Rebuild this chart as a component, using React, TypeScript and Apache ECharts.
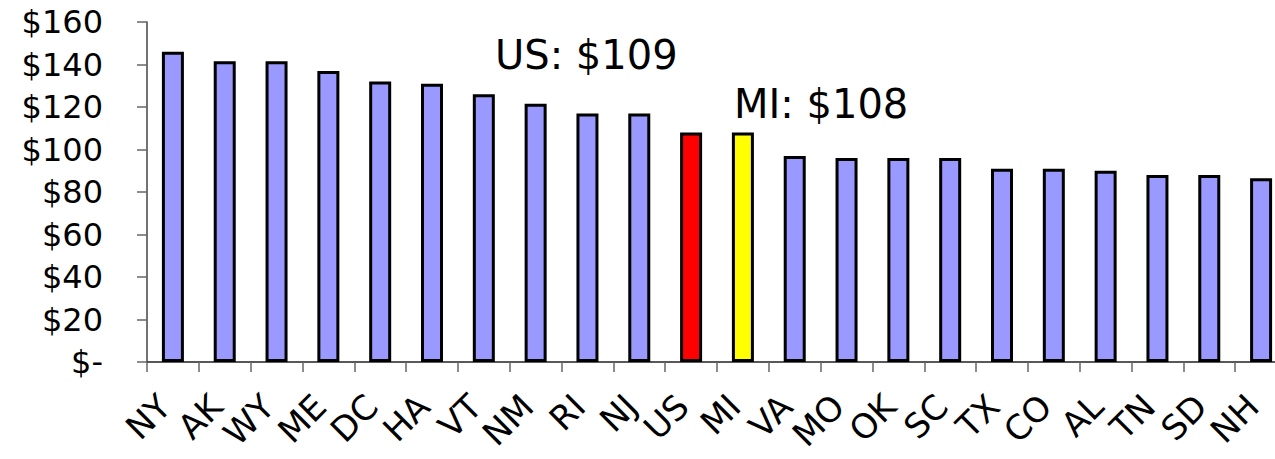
import React, { useEffect, useRef } from "react";
import * as echarts from "echarts";

const categories = ["NY", "AK", "WY", "ME", "DC", "HA", "VT", "NM", "RI", "NJ", "US", "MI", "VA", "MO", "OK", "SC", "TX", "CO", "AL", "TN", "SD", "NH"];
const values = [146, 141.5, 141.5, 137, 132, 131, 126, 121.5, 117, 117, 108, 108, 97, 96, 96, 96, 91, 91, 90, 88, 88, 86.5];
const highlight: Record<string, string> = { US: "#FF0000", MI: "#FFFF00" };
const yTickLabels = ["$-", "$20", "$40", "$60", "$80", "$100", "$120", "$140", "$160"];
const annotations = [
  { text: "US: $109", left: 495, top: 35 },
  { text: "MI: $108", left: 734, top: 84 },
];

const FONT = "DejaVu Sans";

export default function App() {
  const ref = useRef<HTMLDivElement>(null);
  useEffect(() => {
    if (!ref.current) return;
    const chart = echarts.init(ref.current, null, { renderer: "svg" });
    chart.setOption({
      animation: false,
      backgroundColor: "#ffffff",
      grid: { left: 147, top: 22, width: 1140, height: 340, containLabel: false, outerBoundsMode: "none" },
      xAxis: {
        type: "category",
        data: categories,
        axisLine: { lineStyle: { color: "#222", width: 1.5 } },
        axisTick: { show: true, length: 10, lineStyle: { color: "#666", width: 1.5 } },
        axisLabel: {
          rotate: 45,
          interval: 0,
          margin: 30,
          padding: [0, 12, 0, 0],
          color: "#000",
          fontFamily: FONT,
          fontSize: 34,
        },
      },
      yAxis: {
        type: "value",
        min: 0,
        max: 160,
        interval: 20,
        splitLine: { show: false },
        axisLine: { show: true, lineStyle: { color: "#444", width: 1.5 } },
        axisTick: { show: true, length: 10, lineStyle: { color: "#666", width: 1.5 } },
        axisLabel: {
          margin: 44,
          color: "#000",
          fontFamily: FONT,
          fontSize: 32,
          formatter: (v: number) => yTickLabels[Math.round(v / 20)] ?? "",
        },
      },
      series: [
        {
          type: "bar",
          barWidth: 22,
          data: values.map((v, i) => ({
            value: v,
            itemStyle: { color: highlight[categories[i]] ?? "#9999FF" },
          })),
          itemStyle: { borderColor: "#000", borderWidth: 3 },
        },
      ],
      graphic: annotations.map((a) => ({
        type: "text",
        left: a.left,
        top: a.top,
        style: { text: a.text, fontFamily: FONT, fontSize: 40, fill: "#000" },
      })),
    });
    return () => chart.dispose();
  }, []);
  return (
    <div style={{ position: "absolute", left: 0, top: 0, width: 1275, height: 459, overflow: "hidden", background: "#fff" }}>
      <div ref={ref} style={{ width: 1290, height: 459 }} />
    </div>
  );
}
